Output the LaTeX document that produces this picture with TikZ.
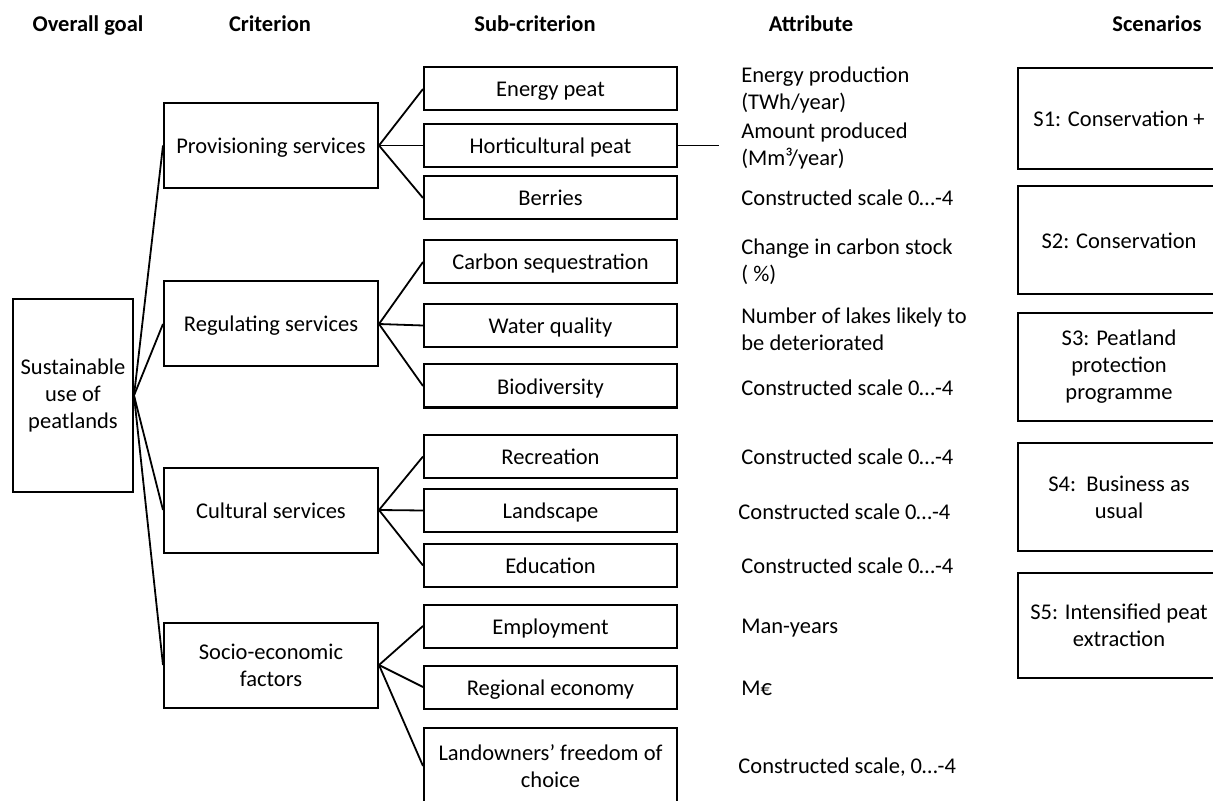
\documentclass[tikz,border=0pt]{standalone}
\usepackage{fontspec}
\setmainfont{Carlito}
\begin{document}
\begin{tikzpicture}[x=0.5pt, y=-0.5pt, font=\fontsize{11.25}{13.5}\selectfont]
      \tikzstyle{headnode}=[font=\fontsize{11.25}{13.5}\selectfont\bfseries, inner sep=0, anchor=base]
      \tikzstyle{box}=[draw, line width=1pt, align=center, inner sep=2pt]
      \tikzstyle{oneline}=[text height=0.8em, text depth=0pt]
      \tikzstyle{goalnode}=[box, minimum width=60pt, minimum height=96.5pt]
      \tikzstyle{critnode}=[box, minimum width=107pt, minimum height=42.5pt]
      \tikzstyle{subnode}=[box, minimum width=126.5pt, minimum height=21.5pt]
      \tikzstyle{attrnode}=[anchor=west, align=left, inner sep=0]
      \tikzstyle{scennode}=[box, minimum width=101pt, minimum height=54pt]
      \tikzstyle{link}=[draw, line width=0.9pt]
      \useasboundingbox (0,0) rectangle (1213,801);
      \clip (0,0) rectangle (1213,801);
      % column heads
      \node[headnode] (hgoal) at (88,32) {Overall goal};
      \node[headnode] (hcrit) at (270,32) {Criterion};
      \node[headnode] (hsub) at (535,32) {Sub-criterion};
      \node[headnode] (hattr) at (811,32) {Attribute};
      \node[headnode] (hscen) at (1157,32) {Scenarios};
      % goal and criteria
      \node[goalnode] (goal) at (73,395.5) {Sustainable\\use of\\peatlands};
      \node[critnode, oneline] (prov) at (271,145.5) {Provisioning services};
      \node[critnode, oneline] (regu) at (271,324) {Regulating services};
      \node[critnode, oneline] (cult) at (271,510) {Cultural services};
      \node[critnode] (soci) at (271,665) {Socio-economic\\factors};
      % sub-criteria
      \node[subnode, oneline] (energy) at (550.5,89) {Energy peat};
      \node[subnode, oneline] (horti) at (550.5,145.5) {Horticultural peat};
      \node[subnode, oneline] (berry) at (550.5,198) {Berries};
      \node[subnode, oneline] (carbon) at (550.5,262) {Carbon sequestration};
      \node[subnode, oneline] (water) at (550.5,325.5) {Water quality};
      \node[subnode, oneline] (biodiv) at (550.5,386) {Biodiversity};
      \node[subnode, oneline] (recre) at (550.5,456.5) {Recreation};
      \node[subnode, oneline] (lands) at (550.5,510.5) {Landscape};
      \node[subnode, oneline] (educ) at (550.5,565.5) {Education};
      \node[subnode, oneline] (emplo) at (550.5,626) {Employment};
      \node[subnode, oneline] (econ) at (550.5,687) {Regional economy};
      \node[subnode, minimum height=38pt] (owner) at (550.5,766) {Landowners’ freedom of\\choice};
      \coordinate (hortiend) at (719,145.5);
      % attributes
      \node[attrnode] (aenergy) at (741,90.5) {Energy production\\(TWh/year)};
      \node[attrnode] (ahorti) at (741,146) {Amount produced\\(Mm³/year)};
      \node[attrnode, oneline] (aberry) at (741,198) {Constructed scale 0…-4};
      \node[attrnode] (acarbon) at (741,262) {Change in carbon stock\\( \%)};
      \node[attrnode] (awater) at (741,329.5) {Number of lakes likely to\\be deteriorated};
      \node[attrnode, oneline] (abiodiv) at (741,387) {Constructed scale 0…-4};
      \node[attrnode, oneline] (arecre) at (741,456) {Constructed scale 0…-4};
      \node[attrnode, oneline] (alands) at (738,511) {Constructed scale 0…-4};
      \node[attrnode, oneline] (aeduc) at (741,565) {Constructed scale 0…-4};
      \node[attrnode, oneline] (aemplo) at (741,625) {Man-years};
      \node[attrnode, oneline] (aecon) at (741,687) {M€};
      \node[attrnode, oneline] (aowner) at (738,765) {Constructed scale, 0…-4};
      % scenarios
      \node[scennode, oneline, minimum height=50.5pt] (sone) at (1119,118.5) {S1: Conservation +};
      \node[scennode, oneline] (stwo) at (1119,240.5) {S2: Conservation};
      \node[scennode] (sthree) at (1119,367) {S3: Peatland\\protection\\programme};
      \node[scennode] (sfour) at (1119,497) {S4:\ \ Business as\\usual};
      \node[scennode, minimum height=52.5pt] (sfive) at (1119,625.5) {S5: Intensified peat\\extraction};
      % connectors
      \foreach \c in {prov,regu,cult,soci}
        \path[link] (goal.east) -- (\c.west);
      \foreach \s in {energy,horti,berry}
        \path[link] (prov.east) -- (\s.west);
      \foreach \s in {carbon,water,biodiv}
        \path[link] (regu.east) -- (\s.west);
      \foreach \s in {recre,lands,educ}
        \path[link] (cult.east) -- (\s.west);
      \foreach \s in {emplo,econ,owner}
        \path[link] (soci.east) -- (\s.west);
      \path[link] (horti.east) -- (hortiend);
\end{tikzpicture}
\end{document}
